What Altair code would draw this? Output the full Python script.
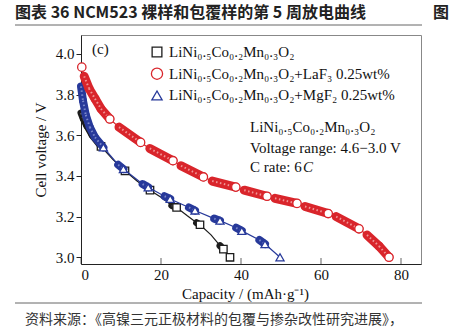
import altair as alt
import pandas as pd

# ---------------- data ----------------
x_ticks = [0, 20, 40, 60, 80]
y_ticks = [3.0, 3.2, 3.4, 3.6, 3.8, 4.0]

# kind: "o" = open marker point, "c" = start of a dense marker cluster
red_cap = [0.2, 0.8, 2.0, 3.5, 5.0, 7.2, 9.5, 14.9, 17.2, 23.0, 25.0, 30.6, 32.8, 38.7,
           40.8, 46.5, 48.5, 54.0, 56.0, 61.8, 63.8, 69.5, 71.5, 74.5, 77.0]
red_v = [3.935, 3.89, 3.83, 3.78, 3.73, 3.68, 3.64, 3.565, 3.535, 3.475, 3.45, 3.395, 3.375, 3.345,
         3.33, 3.30, 3.29, 3.265, 3.25, 3.215, 3.20, 3.14, 3.11, 3.055, 3.0]
red_kind = ["o", "c", "c", "c", "c", "o", "c", "o", "c", "o", "c", "o", "c", "o",
            "c", "o", "c", "o", "c", "o", "c", "o", "c", "c", "o"]

blue_cap = [0.0, 0.5, 1.2, 2.2, 3.5, 5.6, 9.3, 10.6, 15.4, 16.8, 20.9, 22.3, 27.0, 28.5,
            33.3, 34.75, 38.8, 40.2, 44.6, 46.0, 49.75]
blue_v = [3.84, 3.77, 3.70, 3.64, 3.59, 3.54, 3.455, 3.434, 3.36, 3.344, 3.30, 3.287, 3.245, 3.23,
          3.19, 3.18, 3.145, 3.13, 3.085, 3.065, 3.0]
blue_kind = ["c", "c", "c", "c", "c", "o", "c", "o", "c", "o", "c", "o", "c", "o",
             "c", "o", "c", "o", "c", "o", "o"]

black_cap = [0.0, 0.6, 1.5, 2.8, 5.0, 8.0, 11.0, 14.0, 17.25, 20.0, 22.7, 23.9, 26.5, 28.9,
             29.75, 32.5, 34.75, 35.6, 37.25]
black_v = [3.71, 3.68, 3.645, 3.60, 3.545, 3.48, 3.425, 3.375, 3.33, 3.295, 3.255, 3.245, 3.205, 3.17,
           3.16, 3.11, 3.057, 3.04, 3.0]
black_kind = ["c", "c", "c", "c", "o", "", "o", "", "o", "", "c", "o", "", "c",
              "o", "", "c", "o", "o"]

legend_labels = ["LiNi₀.₅Co₀.₂Mn₀.₃O₂",
                 "LiNi₀.₅Co₀.₂Mn₀.₃O₂+LaF₃ 0.25wt%",
                 "LiNi₀.₅Co₀.₂Mn₀.₃O₂+MgF₂ 0.25wt%"]

title_text = "图表 36 NCM523 裸样和包覆样的第 5 周放电曲线"
source_text = "资料来源：《高镍三元正极材料的包覆与掺杂改性研究进展》，"

# ---------------- styling ----------------
RED = "#d9252b"
BLUE = "#27399a"
BLACK = "#1c1c1c"
SERIF = "Liberation Serif"
CJK = "Noto Sans CJK SC"
W, H = 340, 229

xs = alt.Scale(domain=[0, 85], nice=False, zero=False)
ys = alt.Scale(domain=[2.967, 4.093], nice=False, zero=False)
X = alt.X("cap:Q", scale=xs,
          axis=alt.Axis(values=x_ticks, title="Capacity / (mAh·g⁻¹)", tickSize=0,
                        labelPadding=3, titlePadding=4, grid=False, format="d",
                        titleX=164))
Y = alt.Y("v:Q", scale=ys,
          axis=alt.Axis(values=y_ticks, title="Cell voltage / V", tickSize=5,
                        labelPadding=2, titlePadding=7, grid=False, format=".1f"))


def points_df(caps, vs, kinds):
    return pd.DataFrame({"cap": caps, "v": vs, "kind": kinds, "idx": range(len(caps))})


def seg_df(caps, vs, kinds):
    rows = []
    for i, k in enumerate(kinds):
        if k == "c" and i + 1 < len(caps):
            rows.append({"cap": caps[i], "v": vs[i], "seg": i, "o": 0})
            rows.append({"cap": caps[i + 1], "v": vs[i + 1], "seg": i, "o": 1})
    return pd.DataFrame(rows)


def series_layers(caps, vs, kinds, color, light, shape, size, thick):
    p = points_df(caps, vs, kinds)
    s = seg_df(caps, vs, kinds)
    line = alt.Chart(p).mark_line(color=color, strokeWidth=1.2).encode(
        x=X, y=Y, order="idx:Q")
    clus = alt.Chart(s).mark_line(color=color, strokeWidth=thick, strokeCap="round").encode(
        x=X, y=Y, detail="seg:N", order="o:Q")
    tex = alt.Chart(s).mark_line(color=light, strokeWidth=2, strokeDash=[1.5, 2.5],
                                 opacity=0.8).encode(
        x=X, y=Y, detail="seg:N", order="o:Q")
    opens = alt.Chart(p[p["kind"] == "o"]).mark_point(
        shape=shape, filled=True, fill="white", stroke=color, strokeWidth=1.3,
        size=size, opacity=1).encode(x=X, y=Y)
    return [line, clus, tex, opens]


layers = []
layers += series_layers(black_cap, black_v, black_kind, BLACK, "#777777", "square", 55, 7)
layers += series_layers(blue_cap, blue_v, blue_kind, BLUE, "#8e9bd6", "triangle-up", 65, 8)
layers += series_layers(red_cap, red_v, red_kind, RED, "#f6b3b3", "circle", 70, 9)

# inward x ticks
tick_df = pd.DataFrame({"cap": x_ticks})
layers.append(alt.Chart(tick_df).mark_tick(color="#222", size=6, thickness=1).encode(
    x=X, y=alt.value(H - 3)))

dummy = pd.DataFrame({"a": [0]})

# legend
sym_shapes = ["square", "circle", "triangle-up"]
sym_colors = [BLACK, RED, BLUE]
sym_sizes = [95, 125, 105]
for i in range(3):
    yy = 17 + i * 21.7
    layers.append(alt.Chart(dummy).mark_point(
        shape=sym_shapes[i], filled=True, fill="white", stroke=sym_colors[i],
        strokeWidth=1.3, size=sym_sizes[i], opacity=1).encode(
        x=alt.value(76), y=alt.value(yy)))
    layers.append(alt.Chart(dummy).mark_text(
        text=legend_labels[i], font=SERIF, fontSize=15, align="left", baseline="middle",
        color="#111").encode(x=alt.value(88), y=alt.value(yy)))

# panel letter and annotation
layers.append(alt.Chart(dummy).mark_text(
    text="(c)", font=SERIF, fontSize=15, align="left", baseline="middle", color="#111").encode(
    x=alt.value(11), y=alt.value(14)))
layers.append(alt.Chart(dummy).mark_text(
    text="LiNi₀.₅Co₀.₂Mn₀.₃O₂", font=SERIF, fontSize=15, align="left", baseline="middle",
    color="#111").encode(x=alt.value(169), y=alt.value(92)))
layers.append(alt.Chart(dummy).mark_text(
    text="Voltage range: 4.6−3.0 V", font=SERIF, fontSize=15, align="left", baseline="middle",
    color="#111").encode(x=alt.value(169), y=alt.value(113)))
layers.append(alt.Chart(dummy).mark_text(
    text="C rate: 6", font=SERIF, fontSize=15, align="left", baseline="middle",
    color="#111").encode(x=alt.value(169), y=alt.value(132)))
layers.append(alt.Chart(dummy).mark_text(
    text="C", font=SERIF, fontSize=15, fontStyle="italic", align="left", baseline="middle",
    color="#111").encode(x=alt.value(222), y=alt.value(132)))

# page title, rules and source
layers.append(alt.Chart(dummy).mark_text(
    text=title_text, font=CJK, fontSize=16, fontWeight="bold", align="left",
    baseline="middle", color="#222").encode(x=alt.value(-66), y=alt.value(-22)))
layers.append(alt.Chart(dummy).mark_text(
    text="图", font=CJK, fontSize=16, fontWeight="bold", align="left",
    baseline="middle", color="#222").encode(x=alt.value(352), y=alt.value(-22)))
layers.append(alt.Chart(dummy).mark_rule(color="#666", strokeWidth=1).encode(
    x=alt.value(-66), x2=alt.value(341), y=alt.value(-10)))
layers.append(alt.Chart(dummy).mark_rule(color="#666", strokeWidth=1).encode(
    x=alt.value(-66), x2=alt.value(341), y=alt.value(268)))
layers.append(alt.Chart(dummy).mark_text(
    text=source_text, font=CJK, fontSize=14, align="left", baseline="middle",
    color="#333").encode(x=alt.value(-56), y=alt.value(285)))

chart = alt.layer(*layers).properties(
    width=W, height=H,
    autosize=alt.AutoSizeParams(type="none"),
    padding={"left": 81, "top": 35, "right": 30, "bottom": 70},
    background="white",
).configure_view(stroke="#888", strokeWidth=1).configure_axis(
    labelFont=SERIF, titleFont=SERIF, labelFontSize=15, titleFontSize=15,
    labelColor="#111", titleColor="#111", titleFontWeight="normal",
    domainColor="#222", tickColor="#222",
)

chart.save("out.html", embed_options={"renderer": "svg", "actions": False})
